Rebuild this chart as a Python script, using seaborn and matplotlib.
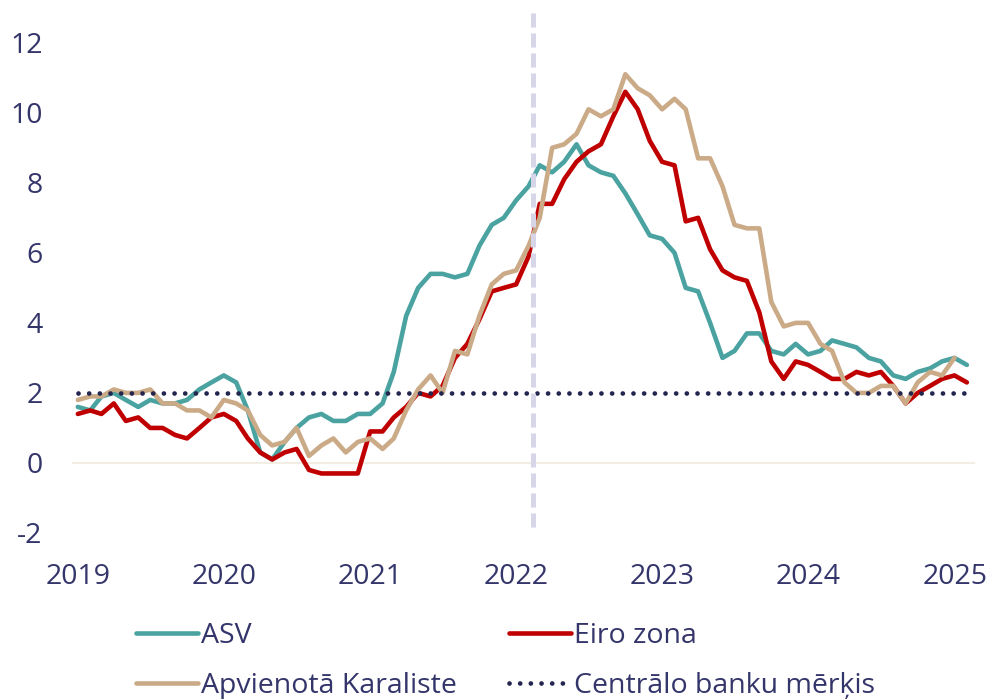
import numpy as np
import pandas as pd
import matplotlib
matplotlib.use("Agg")
import matplotlib.pyplot as plt
import matplotlib.transforms as mtransforms
import seaborn as sns
from matplotlib.lines import Line2D

# monthly inflation, % y/y, Jan 2019 - Feb 2025
months = pd.period_range("2019-01", "2025-02", freq="M")

asv = [
    1.6, 1.5, 1.9, 2.0, 1.8, 1.6, 1.8, 1.7, 1.7, 1.8, 2.1, 2.3,
    2.5, 2.3, 1.5, 0.3, 0.1, 0.6, 1.0, 1.3, 1.4, 1.2, 1.2, 1.4,
    1.4, 1.7, 2.6, 4.2, 5.0, 5.4, 5.4, 5.3, 5.4, 6.2, 6.8, 7.0,
    7.5, 7.9, 8.5, 8.3, 8.6, 9.1, 8.5, 8.3, 8.2, 7.7, 7.1, 6.5,
    6.4, 6.0, 5.0, 4.9, 4.0, 3.0, 3.2, 3.7, 3.7, 3.2, 3.1, 3.4,
    3.1, 3.2, 3.5, 3.4, 3.3, 3.0, 2.9, 2.5, 2.4, 2.6, 2.7, 2.9,
    3.0, 2.8,
]
eiro_zona = [
    1.4, 1.5, 1.4, 1.7, 1.2, 1.3, 1.0, 1.0, 0.8, 0.7, 1.0, 1.3,
    1.4, 1.2, 0.7, 0.3, 0.1, 0.3, 0.4, -0.2, -0.3, -0.3, -0.3, -0.3,
    0.9, 0.9, 1.3, 1.6, 2.0, 1.9, 2.2, 3.0, 3.4, 4.1, 4.9, 5.0,
    5.1, 5.9, 7.4, 7.4, 8.1, 8.6, 8.9, 9.1, 9.9, 10.6, 10.1, 9.2,
    8.6, 8.5, 6.9, 7.0, 6.1, 5.5, 5.3, 5.2, 4.3, 2.9, 2.4, 2.9,
    2.8, 2.6, 2.4, 2.4, 2.6, 2.5, 2.6, 2.2, 1.7, 2.0, 2.2, 2.4,
    2.5, 2.3,
]
apvienota_karaliste = [
    1.8, 1.9, 1.9, 2.1, 2.0, 2.0, 2.1, 1.7, 1.7, 1.5, 1.5, 1.3,
    1.8, 1.7, 1.5, 0.8, 0.5, 0.6, 1.0, 0.2, 0.5, 0.7, 0.3, 0.6,
    0.7, 0.4, 0.7, 1.5, 2.1, 2.5, 2.0, 3.2, 3.1, 4.2, 5.1, 5.4,
    5.5, 6.2, 7.0, 9.0, 9.1, 9.4, 10.1, 9.9, 10.1, 11.1, 10.7, 10.5,
    10.1, 10.4, 10.1, 8.7, 8.7, 7.9, 6.8, 6.7, 6.7, 4.6, 3.9, 4.0,
    4.0, 3.4, 3.2, 2.3, 2.0, 2.0, 2.2, 2.2, 1.7, 2.3, 2.6, 2.5,
    3.0, np.nan,
]
target = 2.0
war_date = "2022-02-24"

years = [2019, 2020, 2021, 2022, 2023, 2024, 2025]
y_ticks = [-2, 0, 2, 4, 6, 8, 10, 12]

names = ["ASV", "Eiro zona", "Apvienotā Karaliste"]
colors = {"ASV": "#4aa2a1", "Eiro zona": "#c00000", "Apvienotā Karaliste": "#cbab87"}
target_label = "Centrālo banku mērķis"
target_color = "#23254f"
war_color = "#d7d5e8"
zero_color = "#f2eee6"
text_color = "#34356a"

sns.set_theme(style="white")
plt.rcParams["font.family"] = ["Open Sans", "DejaVu Sans"]
plt.rcParams["axes.unicode_minus"] = False
fs = 20.5
dot_style = (0, (0.01, 2.25))

dates = months.to_timestamp() + pd.Timedelta(days=12)
df = pd.DataFrame({"date": dates, "ASV": asv, "Eiro zona": eiro_zona,
                   "Apvienotā Karaliste": apvienota_karaliste})
long = df.melt(id_vars="date", var_name="series", value_name="value").dropna()

fig = plt.figure(figsize=(9.91, 6.99), dpi=100)
ax = fig.add_axes([0.0737, 0.2375, 0.9092, 0.7439])

sns.lineplot(data=long, x="date", y="value", hue="series", hue_order=names,
             palette=colors, linewidth=3.3, errorbar=None, legend=False, ax=ax, zorder=3)

target_df = pd.DataFrame({"date": dates, "value": target})
sns.lineplot(data=target_df, x="date", y="value", color=target_color, linewidth=3.4,
             linestyle=dot_style, dash_capstyle="round", ax=ax, zorder=4)

# dashes start from the top of the plot
ax.axvline(pd.Timestamp(war_date), ymin=1, ymax=0, color=war_color, linewidth=3.6,
           linestyle=(0, (2.8, 1.2)), zorder=5)

ax.set_xlim(pd.Timestamp("2019-01-01"), pd.Timestamp("2025-03-03"))
ax.set_ylim(-2, 12.85)

for s in ["top", "right", "left"]:
    ax.spines[s].set_visible(False)
ax.spines["bottom"].set_position(("data", 0))
ax.spines["bottom"].set_color(zero_color)
ax.spines["bottom"].set_linewidth(1.5)
ax.spines["bottom"].set_zorder(1)

ax.set_xticks([pd.Timestamp(f"{y}-01-01") for y in years])
ax.set_xticklabels([str(y) for y in years])
ax.set_yticks(y_ticks)
ax.set_yticklabels([str(v) for v in y_ticks])
ax.tick_params(axis="x", direction="inout", length=13.5, width=1.5, color=zero_color,
               pad=65.5, labelsize=fs, labelcolor=text_color)
ax.tick_params(axis="y", length=0, pad=22, labelsize=fs, labelcolor=text_color)
ax.set_xlabel("")
ax.set_ylabel("")
ax.grid(False)

shift = mtransforms.ScaledTranslation(5 / 100, 0, fig.dpi_scale_trans)
for lab in ax.get_xticklabels():
    lab.set_transform(lab.get_transform() + shift)

handles = [
    Line2D([], [], color=colors["ASV"], linewidth=3.3, solid_capstyle="round"),
    Line2D([], [], color=colors["Apvienotā Karaliste"], linewidth=3.3, solid_capstyle="round"),
    Line2D([], [], color=colors["Eiro zona"], linewidth=3.3, solid_capstyle="round"),
    Line2D([], [], color=target_color, linewidth=3.4, linestyle=dot_style,
           dash_capstyle="round"),
]
labels = ["ASV", "Apvienotā Karaliste", "Eiro zona", target_label]
fig.legend(handles, labels, ncol=2, loc="upper left", bbox_to_anchor=(0.1372, 0.1100),
           frameon=False, fontsize=fs, handlelength=2.18, handletextpad=0.12,
           columnspacing=1.8, labelspacing=0.77, borderpad=0, borderaxespad=0,
           labelcolor=text_color)

fig.savefig("out.png", dpi=100)
